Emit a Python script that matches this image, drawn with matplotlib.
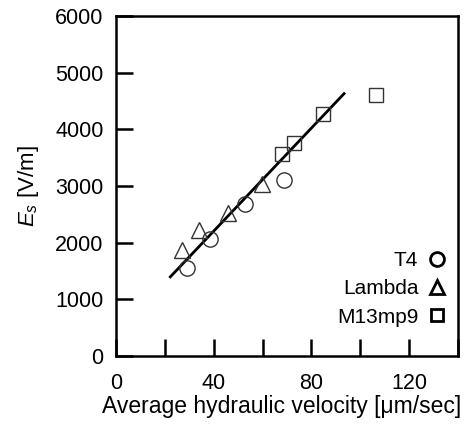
import matplotlib.pyplot as plt
from matplotlib.lines import Line2D
from matplotlib.ticker import MultipleLocator, FuncFormatter

plt.rcParams['font.family'] = ['Liberation Sans', 'DejaVu Sans']
plt.rcParams['mathtext.fontset'] = 'custom'
plt.rcParams['mathtext.it'] = 'Liberation Sans:italic'
plt.rcParams['mathtext.rm'] = 'Liberation Sans'

# T4
t4_x = [29.1, 38.3, 52.7, 68.8]
t4_y = [1564, 2063, 2681, 3116]
# Lambda
lam_x = [27.1, 33.8, 45.8, 59.9]
lam_y = [1870, 2220, 2520, 3030]
# M13mp9
m13_x = [67.9, 72.7, 84.6, 106.3]
m13_y = [3563, 3769, 4280, 4603]
# fit line
fit_x = [22.2, 93.4]
fit_y = [1399, 4633]

fig = plt.figure(figsize=(4.72, 4.25), dpi=100)
ax = fig.add_axes([0.246, 0.162, 0.724, 0.8])

ax.plot(fit_x, fit_y, color='black', linewidth=2)
ax.plot(t4_x, t4_y, 'o', ms=11, mfc='none', mec='#333333', mew=1)
ax.plot(lam_x, lam_y, '^', ms=11, mfc='none', mec='#333333', mew=1)
ax.plot(m13_x, m13_y, 's', ms=10, mfc='none', mec='#333333', mew=1)

ax.set_xlim(0, 140)
ax.set_ylim(0, 6000)
ax.xaxis.set_major_locator(MultipleLocator(20))
ax.xaxis.set_major_formatter(FuncFormatter(lambda v, p: f"{int(v)}" if int(v) % 40 == 0 else ""))
ax.yaxis.set_major_locator(MultipleLocator(1000))
ax.tick_params(direction='in', length=12, width=1.8, labelsize=15.5, colors='black', pad=9)
ax.tick_params(axis='x', pad=12)
for s in ax.spines.values():
    s.set_linewidth(1.8)

ax.set_xlabel("Average hydraulic velocity [μm/sec]", fontsize=16.5, labelpad=0)
ax.xaxis.set_label_coords(0.483, -0.115)
ax.set_ylabel("$E_s$ [V/m]", fontsize=16, labelpad=10)

handles = [
    Line2D([], [], ls='none', marker='o', ms=10, mfc='none', mec='black', mew=2),
    Line2D([], [], ls='none', marker='^', ms=10, mfc='none', mec='black', mew=2),
    Line2D([], [], ls='none', marker='s', ms=9, mfc='none', mec='black', mew=2),
]
ax.legend(handles, ["T4", "Lambda", "M13mp9"], loc='lower right', markerfirst=False,
          frameon=False, fontsize=15, handlelength=0.8, handletextpad=0.5,
          labelspacing=0.45, borderaxespad=0.2, bbox_to_anchor=(1.0, 0.05))

fig.savefig("out.png", dpi=100)
